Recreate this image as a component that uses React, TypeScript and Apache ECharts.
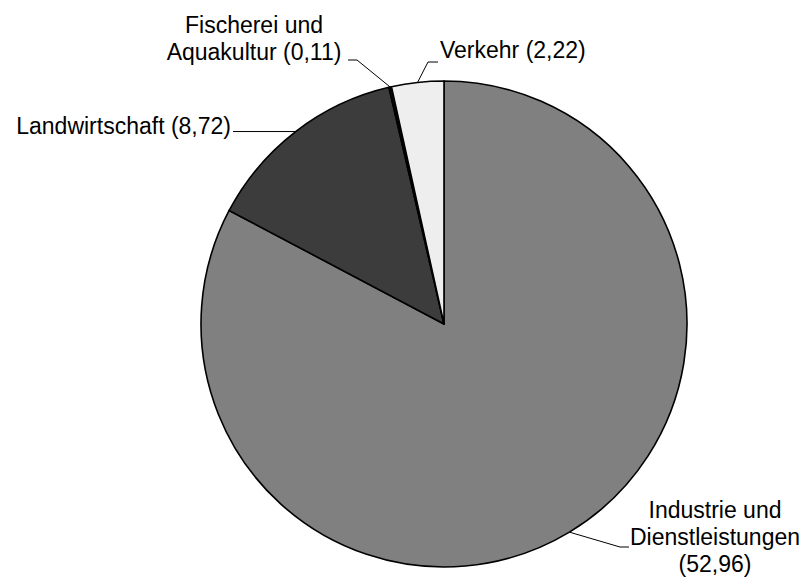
import React, { useEffect, useRef } from "react";
import * as echarts from "echarts";

const categories = ["Industrie und Dienstleistungen", "Landwirtschaft", "Fischerei und Aquakultur", "Verkehr"];
const labelNames = ["Industrie und\nDienstleistungen", "Landwirtschaft", "Fischerei und\nAquakultur", "Verkehr"];
const valueSeparators = ["\n", " ", " ", " "];
const values = [52.96, 8.72, 0.11, 2.22];
const colors = ["#808080", "#3c3c3c", "#0a0a0a", "#eeeeee"];

// label anchor positions (x, y, align) and leader line bends
const labelPos: [number, number, string][] = [
  [715, 537, "center"],
  [231, 126, "right"],
  [254, 38, "center"],
  [440, 50, "left"],
];
const bends: [number, number][][] = [
  [[620, 547], [629, 547]],
  [[233, 0], [233, 0]],
  [[357, 60], [348, 60]],
  [[428, 62], [438, 62]],
];

const fmt = (v: number) => v.toFixed(2).replace(".", ",");

export default function App() {
  const ref = useRef<HTMLDivElement>(null);
  useEffect(() => {
    document.body.style.margin = "0";
    const chart = echarts.init(ref.current!, null, { renderer: "svg" });
    chart.setOption({
      animation: false,
      backgroundColor: "#ffffff",
      series: [
        {
          type: "pie",
          center: [444, 324],
          radius: 243,
          startAngle: 90,
          clockwise: true,
          avoidLabelOverlap: false,
          itemStyle: { borderColor: "#000000", borderWidth: 1.6 },
          label: {
            show: true,
            position: "outside",
            color: "#000000",
            fontFamily: "Liberation Sans, Arial, sans-serif",
            fontSize: 23,
            lineHeight: 27,
            formatter: (p: any) => labelNames[p.dataIndex] + valueSeparators[p.dataIndex] + "(" + fmt(p.value) + ")",
          },
          labelLine: {
            show: true,
            length: 20,
            length2: 10,
            lineStyle: { color: "#000000", width: 1 },
          },
          labelLayout: (params: any) => {
            const i = params.dataIndex;
            const [x, y, align] = labelPos[i];
            const start = params.labelLinePoints ? params.labelLinePoints[0] : [x, y];
            const b = bends[i].map((pt) => [pt[0], pt[1] === 0 ? start[1] : pt[1]]);
            return {
              x,
              y,
              align,
              verticalAlign: "middle",
              labelLinePoints: [start, b[0], b[1]],
            };
          },
          data: categories.map((name, i) => ({
            name,
            value: values[i],
            itemStyle: { color: colors[i] },
          })),
        },
      ],
    });
    return () => chart.dispose();
  }, []);
  return <div ref={ref} style={{ width: 809, height: 577 }} />;
}
